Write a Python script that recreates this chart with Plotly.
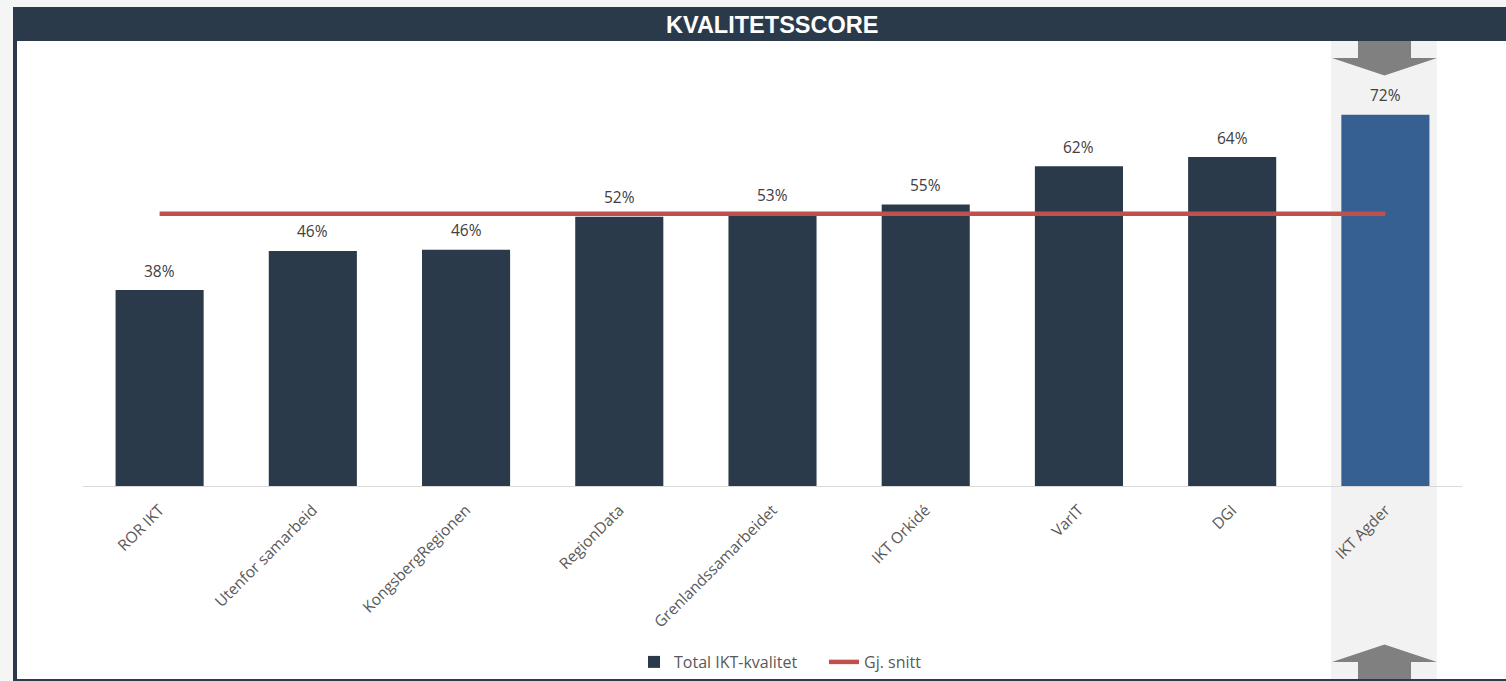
import plotly.graph_objects as go

categories = ["ROR IKT", "Utenfor samarbeid", "KongsbergRegionen", "RegionData",
              "Grenlandssamarbeidet", "IKT Orkidé", "VarIT", "DGI", "IKT Agder"]
quality = [38.0, 45.6, 45.8, 52.2, 52.6, 54.6, 62.0, 63.8, 72.0]
average = 52.8
highlight = "IKT Agder"

W, H = 1506, 681
L, R, T, B = 83, 1462, 41, 486  # plot area in pixels
YMAX = (B - T) / 5.156

def px(x):
    return (x - L) / (R - L)

def py(y):
    return (B - y) / (B - T)

DARK = "#2b3a4a"
HL = "#366092"
bar_colors = [HL if c == highlight else DARK for c in categories]

fig = go.Figure()
fig.add_trace(go.Bar(
    x=categories, y=quality, name="Total IKT-kvalitet",
    marker=dict(color=bar_colors, line=dict(width=0)),
    hoverinfo="x+y",
))
fig.add_trace(go.Scatter(
    x=categories, y=[average] * len(categories), name="Gj. snitt",
    mode="lines", line=dict(color="#c0504d", width=4.5),
))

annotations = []
for c, v in zip(categories, quality):
    annotations.append(dict(
        x=c, y=v, xref="x", yref="y", text=f"{v:.0f}%", showarrow=False,
        yanchor="middle", yshift=19.5,
        font=dict(family="Open Sans", size=15.5, color="#404040"),
    ))
annotations.append(dict(
    x=px(772), y=py(25), xref="paper", yref="paper", text="<b>KVALITETSSCORE</b>",
    showarrow=False, xanchor="center", yanchor="middle",
    font=dict(family="Liberation Sans", size=23.5, color="white"),
))

hi = categories.index(highlight)
shapes = [
    # white panel
    dict(type="rect", xref="paper", yref="paper", x0=px(17), x1=px(W + 5),
         y0=py(41), y1=py(H + 5), fillcolor="white", line=dict(width=0), layer="below"),
    # header bar
    dict(type="rect", xref="paper", yref="paper", x0=px(13), x1=px(W + 5),
         y0=py(7), y1=py(41), fillcolor=DARK, line=dict(width=0), layer="below"),
    # left border
    dict(type="rect", xref="paper", yref="paper", x0=px(13), x1=px(17),
         y0=py(7), y1=py(H + 5), fillcolor=DARK, line=dict(width=0), layer="below"),
    # highlight band
    dict(type="rect", xref="x", yref="paper", x0=hi - 0.355, x1=hi + 0.335,
         y0=py(41), y1=py(679), fillcolor="#f2f2f2", line=dict(width=0), layer="below"),
    # bottom border
    dict(type="rect", xref="paper", yref="paper", x0=px(13), x1=px(W + 5),
         y0=py(679), y1=py(H + 5), fillcolor=DARK, line=dict(width=0), layer="above"),
]

def arrow_path(points):
    return "M " + " L ".join(f"{px(x):.5f},{py(y):.5f}" for x, y in points) + " Z"

down = [(1358, 41), (1411, 41), (1411, 58), (1437, 58), (1384.5, 75.5),
        (1332, 58), (1358, 58)]
up = [(1358, 679), (1411, 679), (1411, 662), (1437, 662), (1384.5, 644.5),
      (1332, 662), (1358, 662)]
for pts in (down, up):
    shapes.append(dict(type="path", xref="paper", yref="paper", path=arrow_path(pts),
                       fillcolor="#808080", line=dict(width=0), layer="above"))

fig.update_layout(
    width=W, height=H,
    margin=dict(l=L, r=W - R, t=T, b=H - B, pad=0, autoexpand=False),
    paper_bgcolor="#f5f5f5", plot_bgcolor="rgba(0,0,0,0)",
    bargap=0.425,
    showlegend=True,
    legend=dict(orientation="h", xref="container", yref="container",
                x=634 / W, xanchor="left", y=1 - 662 / H, yanchor="middle",
                entrywidth=145, entrywidthmode="pixels",
                font=dict(family="Open Sans", size=16, color="#595959"),
                bgcolor="rgba(0,0,0,0)", traceorder="normal"),
    xaxis=dict(type="category", showline=True, linecolor="#d9d9d9", linewidth=1,
               showgrid=False, ticks="", tickangle=-45, ticklabelstandoff=8,
               automargin=False,
               tickfont=dict(family="Open Sans", size=15.5, color="#595959"),
               range=[-0.5, len(categories) - 0.5]),
    yaxis=dict(range=[0, YMAX], visible=False, showgrid=False, zeroline=False,
               automargin=False),
    annotations=annotations, shapes=shapes,
    font=dict(family="Open Sans"),
)

fig.write_html(
    "out.html",
    config={"displayModeBar": False},
    post_script=(
        "var d=document.getElementById('{plot_id}');"
        "d.style.position='fixed';d.style.left='0px';d.style.top='0px';"
        "document.body.style.margin='0';"
    ),
)
